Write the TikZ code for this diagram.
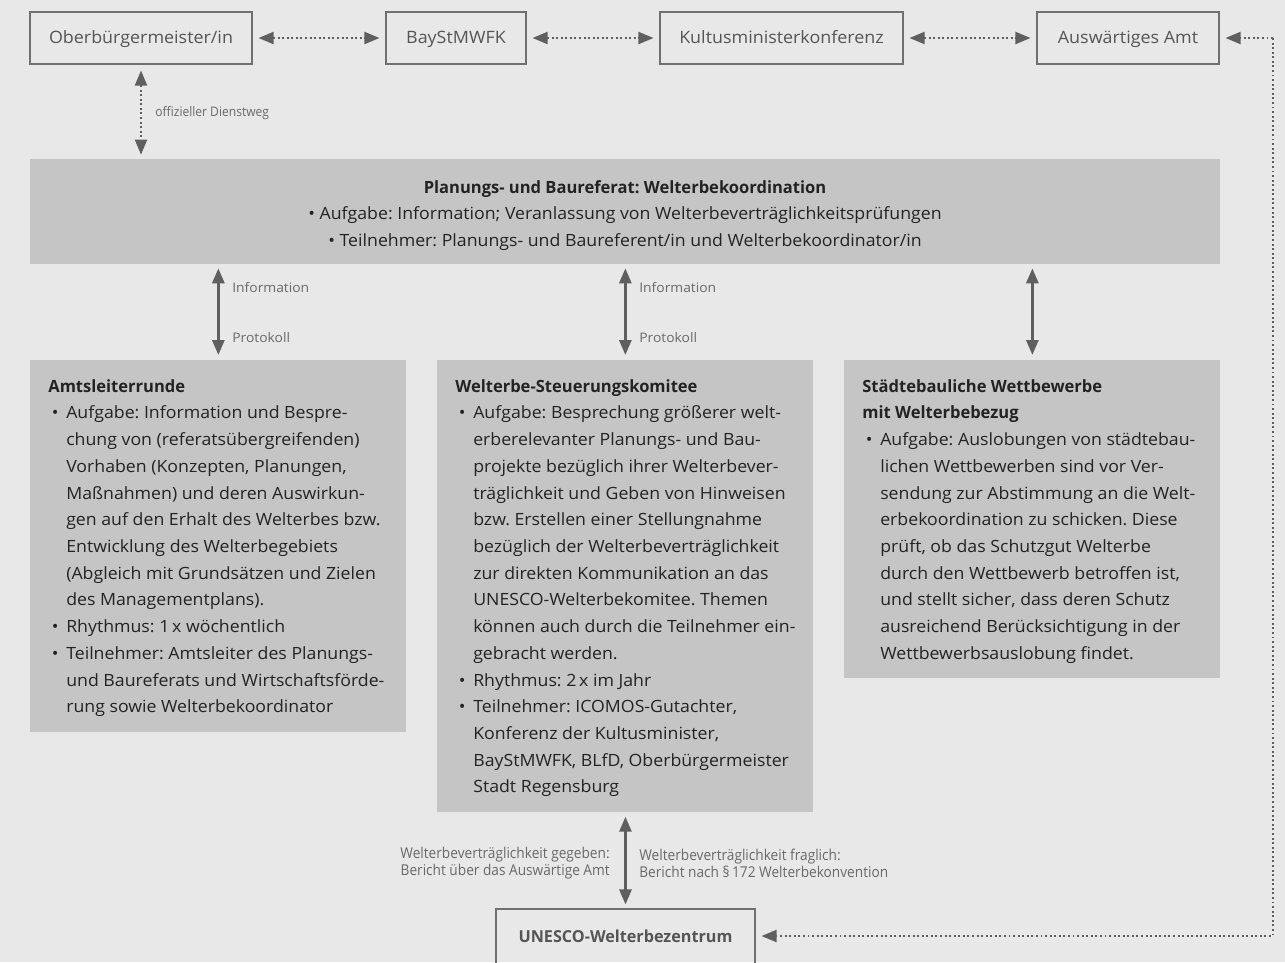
\documentclass[tikz,border=0pt]{standalone}
\usepackage{fontspec}
\setmainfont[FakeStretch=1.05, BoldFeatures={FakeStretch=0.98}]{Open Sans}
\newfontfamily\condfont[FakeStretch=0.915]{Open Sans}
\frenchspacing
\usetikzlibrary{arrows.meta}

\definecolor{bggray}{RGB}{232,232,232}
\definecolor{boxgray}{RGB}{197,197,197}
\definecolor{linegray}{RGB}{112,112,112}
\definecolor{arrgray}{RGB}{95,95,95}
\definecolor{txtdark}{RGB}{35,35,35}
\definecolor{txtgray}{RGB}{85,85,85}
\definecolor{lblgray}{RGB}{105,105,105}

\newcommand\blt{\makebox[10.2pt][l]{\hspace{2pt}\textbullet}}
\newcommand\ind{\hspace*{10.2pt}}

\tikzset{
  topbox/.style={draw=linegray, line width=0.6pt, minimum height=1.04cm, text=txtgray,
    text height=8pt, text depth=1.8pt, font=\fontsize{9.7}{12}\selectfont},
  graybox/.style={fill=boxgray, anchor=north west},
  boxtext/.style={anchor=north west, align=left, inner sep=0pt, text=txtdark,
    font=\fontsize{9.6}{15.2}\selectfont},
  lbl/.style={text=lblgray, inner sep=0pt, font=\fontsize{7.5}{9}\selectfont},
  smalllbl/.style={text=lblgray, inner sep=0pt, font=\condfont\fontsize{8.5}{9.7}\selectfont},
  tip/.tip={Triangle[width=0.24cm,length=0.3cm]},
  dotarrow/.style={draw=arrgray, line width=1.1pt, dash pattern=on 1.1pt off 1.5pt, tip-tip},
  solidarrow/.style={draw=arrgray, line width=1.6pt, tip-tip},
}

\begin{document}
\begin{tikzpicture}
  \fill[bggray] (0,0) rectangle (25.7,-19.24);
  \useasboundingbox (0,0) rectangle (25.7,-19.24);

  % top row
  \node[topbox, minimum width=4.44cm] (ob) at (2.82,-0.76) {Oberbürgermeister/in};
  \node[topbox, minimum width=2.8cm] (bay) at (9.12,-0.76) {BayStMWFK};
  \node[topbox, minimum width=4.86cm] (kmk) at (15.63,-0.76) {Kultusministerkonferenz};
  \node[topbox, minimum width=3.64cm] (aa) at (22.56,-0.76) {Auswärtiges Amt};

  % Welterbekoordination
  \node[fill=boxgray, minimum width=23.8cm, minimum height=2.1cm] (plan) at (12.5,-4.23) {};
  \node[align=center, text=txtdark, inner sep=0pt, font=\fontsize{9.6}{15.3}\selectfont]
    (plantxt) at ([yshift=-0.08cm]plan.center)
    {\textbf{Planungs- und Baureferat: Welterbekoordination}\\
     \textbullet\ Aufgabe: Information; Veranlassung von Welterbeverträglichkeitsprüfungen\\
     \textbullet\ Teilnehmer: Planungs- und Baureferent/in und Welterbekoordinator/in};

  % lower boxes
  \node[graybox, minimum width=7.52cm, minimum height=7.44cm] (amt) at (0.6,-7.2) {};
  \node[graybox, minimum width=7.52cm, minimum height=9.04cm] (wsk) at (8.74,-7.2) {};
  \node[graybox, minimum width=7.52cm, minimum height=6.36cm] (stb) at (16.88,-7.2) {};

  \node[boxtext] (amttxt) at ([xshift=0.36cm,yshift=-0.38cm]amt.north west)
    {\textbf{Amtsleiterrunde}\\
     \blt Aufgabe: Information und Bespre-\\
     \ind chung von (referatsübergreifenden)\\
     \ind Vorhaben (Konzepten, Planungen,\\
     \ind Maßnahmen) und deren Auswirkun-\\
     \ind gen auf den Erhalt des Welterbes bzw.\\
     \ind Entwicklung des Welterbegebiets\\
     \ind (Abgleich mit Grundsätzen und Zielen\\
     \ind des Managementplans).\\
     \blt Rhythmus: 1\,x wöchentlich\\
     \blt Teilnehmer: Amtsleiter des Planungs-\\
     \ind und Baureferats und Wirtschaftsförde-\\
     \ind rung sowie Welterbekoordinator};

  \node[boxtext] (wsktxt) at ([xshift=0.36cm,yshift=-0.38cm]wsk.north west)
    {\textbf{Welterbe-Steuerungskomitee}\\
     \blt Aufgabe: Besprechung größerer welt-\\
     \ind erberelevanter Planungs- und Bau-\\
     \ind projekte bezüglich ihrer Welterbever-\\
     \ind träglichkeit und Geben von Hinweisen\\
     \ind bzw. Erstellen einer Stellungnahme\\
     \ind bezüglich der Welterbeverträglichkeit\\
     \ind zur direkten Kommunikation an das\\
     \ind UNESCO-Welterbekomitee. Themen\\
     \ind können auch durch die Teilnehmer ein-\\
     \ind gebracht werden.\\
     \blt Rhythmus: 2\,x im Jahr\\
     \blt Teilnehmer: ICOMOS-Gutachter,\\
     \ind Konferenz der Kultusminister,\\
     \ind BayStMWFK, BLfD, Oberbürgermeister\\
     \ind Stadt Regensburg};

  \node[boxtext] (stbtxt) at ([xshift=0.36cm,yshift=-0.38cm]stb.north west)
    {\textbf{Städtebauliche Wettbewerbe}\\
     \textbf{mit Welterbebezug}\\
     \blt Aufgabe: Auslobungen von städtebau-\\
     \ind lichen Wettbewerben sind vor Ver-\\
     \ind sendung zur Abstimmung an die Welt-\\
     \ind erbekoordination zu schicken. Diese\\
     \ind prüft, ob das Schutzgut Welterbe\\
     \ind durch den Wettbewerb betroffen ist,\\
     \ind und stellt sicher, dass deren Schutz\\
     \ind ausreichend Berücksichtigung in der\\
     \ind Wettbewerbsauslobung findet.};

  % UNESCO
  \node[topbox, minimum width=5.18cm, minimum height=1.12cm, text=txtgray,
    font=\fontsize{9.4}{12}\selectfont] (unesco) at (12.51,-18.74)
    {\textbf{UNESCO-Welterbezentrum}};

  % dotted connections
  \draw[dotarrow, shorten <=0.12cm, shorten >=0.12cm] (ob) -- (bay);
  \draw[dotarrow, shorten <=0.12cm, shorten >=0.12cm] (bay) -- (kmk);
  \draw[dotarrow, shorten <=0.12cm, shorten >=0.12cm] (kmk) -- (aa);
  \draw[dotarrow, shorten <=0.12cm, shorten >=0.08cm] (ob) -- (plan.north -| ob);
  \coordinate (rtop) at (25.46,-0.76);
  \coordinate (rbot) at (25.46,-18.72);
  \draw[dotarrow, -tip, shorten >=0.12cm] (rtop) -- (rbot) -- (unesco.east |- rbot);
  \draw[dotarrow, -tip, shorten >=0.12cm] (rtop) -- (aa.east);

  % solid connections
  \draw[solidarrow, shorten <=0.08cm, shorten >=0.1cm] (plan.south -| amt) -- (amt);
  \draw[solidarrow, shorten <=0.08cm, shorten >=0.1cm] (plan.south -| wsk) -- (wsk);
  \draw[solidarrow, shorten <=0.08cm, shorten >=0.1cm] (plan.south -| stb) -- (stb);
  \draw[solidarrow, shorten <=0.08cm, shorten >=0.08cm] (wsk) -- (unesco);

  % labels
  \node[lbl, anchor=west] (dienst) at (3.1,-2.26) {\condfont offizieller Dienstweg};
  \node[lbl, anchor=west] (info1) at (4.64,-5.76) {Information};
  \node[lbl, anchor=west] (prot1) at (4.64,-6.76) {Protokoll};
  \node[lbl, anchor=west] (info2) at (12.78,-5.76) {Information};
  \node[lbl, anchor=west] (prot2) at (12.78,-6.76) {Protokoll};
  \node[smalllbl, anchor=east, align=right] (gegeben) at (12.2,-17.27)
    {Welterbeverträglichkeit gegeben:\\Bericht über das Auswärtige Amt};
  \node[smalllbl, anchor=west, align=left] (fraglich) at (12.78,-17.27)
    {Welterbeverträglichkeit fraglich:\\Bericht nach §\,172 Welterbekonvention};
\end{tikzpicture}
\end{document}
